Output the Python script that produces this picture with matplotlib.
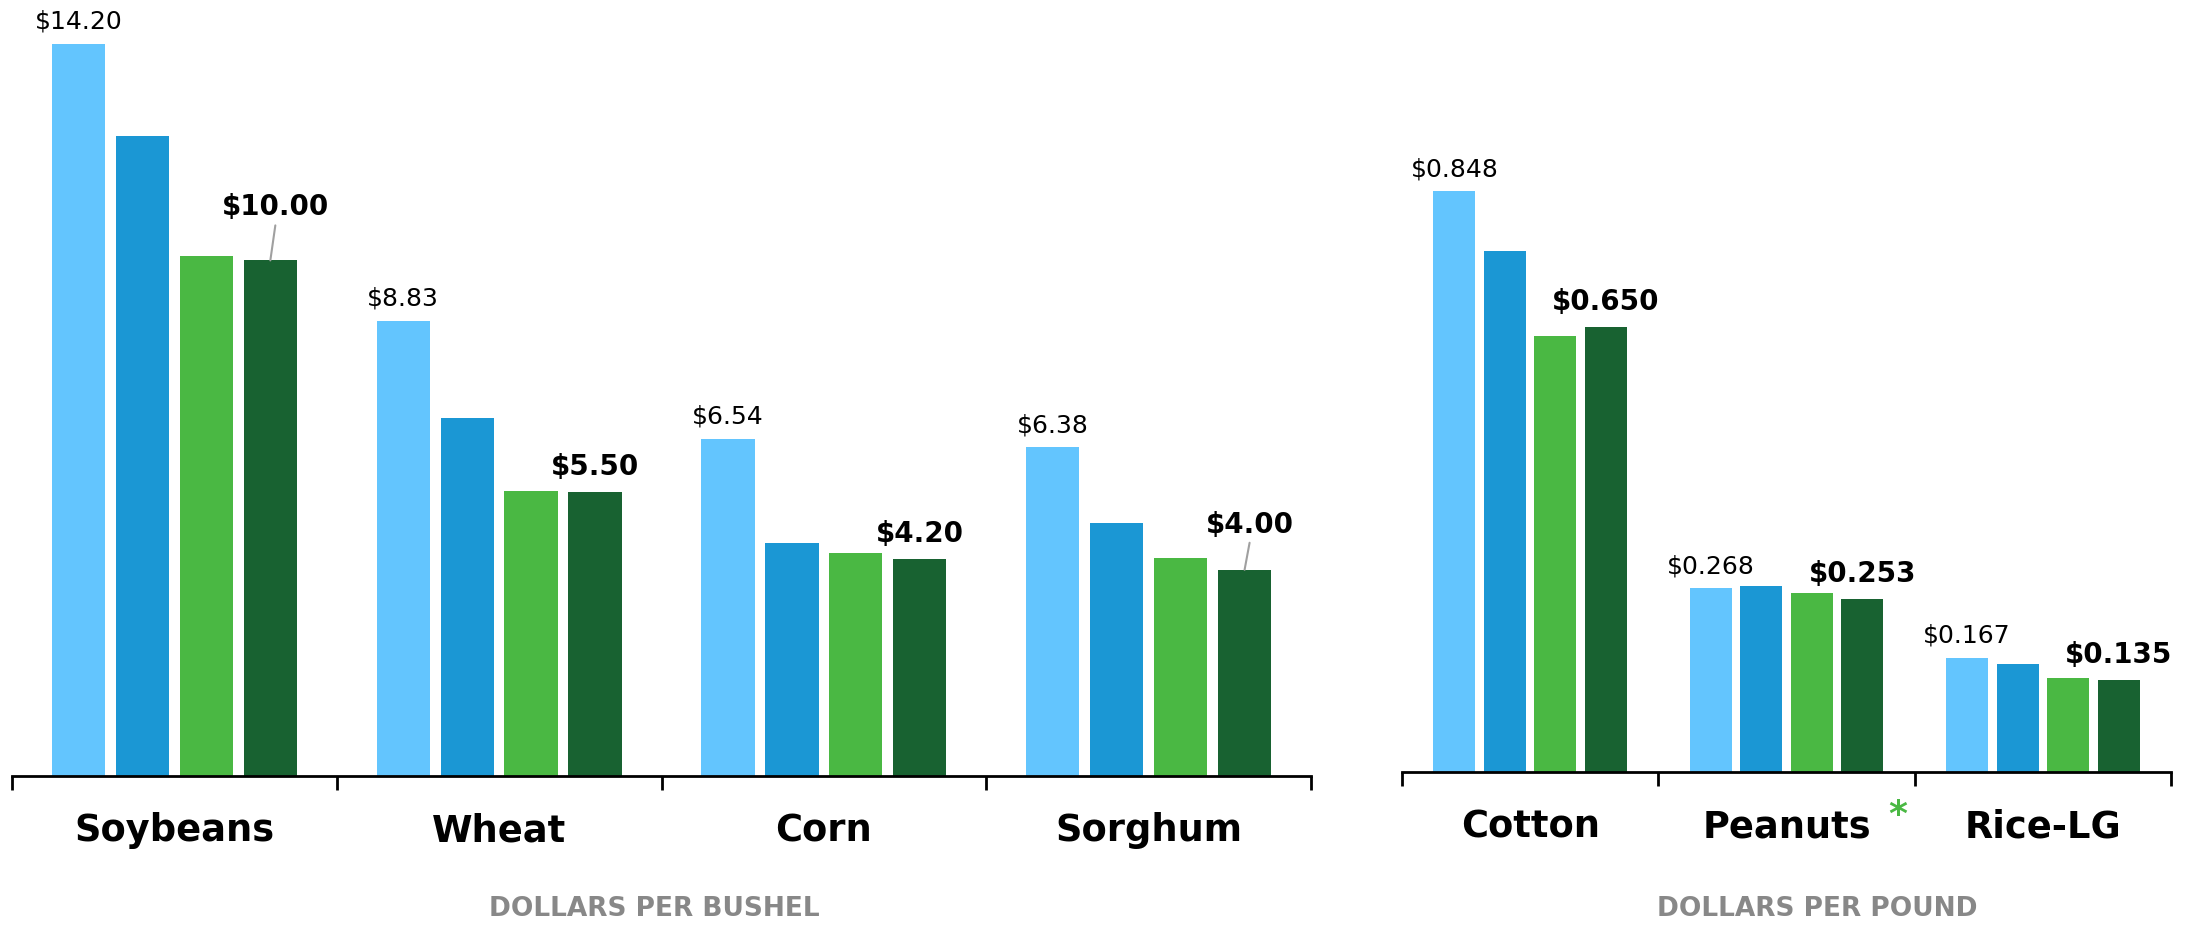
import numpy as np
import matplotlib
matplotlib.use('Agg')
import matplotlib.pyplot as plt

# per bushel crops
bushel_crops = ['Soybeans', 'Wheat', 'Corn', 'Sorghum']
bushel_s1 = [14.20, 8.83, 6.54, 6.38]
bushel_s2 = [12.41, 6.94, 4.52, 4.90]
bushel_s3 = [10.09, 5.53, 4.33, 4.23]
bushel_s4 = [10.00, 5.50, 4.20, 4.00]

# per pound crops
pound_crops = ['Cotton', 'Peanuts', 'Rice-LG']
pound_s1 = [0.848, 0.268, 0.167]
pound_s2 = [0.761, 0.271, 0.158]
pound_s3 = [0.636, 0.261, 0.137]
pound_s4 = [0.650, 0.253, 0.135]

colors = ['#63C5FE', '#1B97D4', '#4AB843', '#186231']
PX = 72 / 100.0  # points per pixel at dpi 100


def draw(ax, crops, series, fmt, ylim, leaders):
    x = np.arange(len(crops))
    step, width = 0.197, 0.164
    for i, vals in enumerate(series):
        ax.bar(x + (i - 1.5) * step, vals, width, color=colors[i], linewidth=0)

    for j in range(len(crops)):
        # normal label on first bar
        ax.annotate(fmt % series[0][j], (x[j] - 1.5 * step, series[0][j]),
                    xytext=(0, 15 * PX), textcoords='offset points',
                    ha='center', va='baseline', fontsize=18)
        # bold label on last bar, some with a leader line
        lead = leaders[j]
        xb = x[j] + 1.5 * step
        if lead:
            ax.annotate(fmt % series[3][j], (xb, series[3][j]),
                        xytext=(5 * PX, lead * PX), textcoords='offset points',
                        ha='center', va='baseline', fontsize=20, fontweight='bold')
            ax.annotate('', (xb, series[3][j]),
                        xytext=(5 * PX, (lead - 10) * PX), textcoords='offset points',
                        arrowprops=dict(arrowstyle='-', color='#A0A0A0', lw=1.5,
                                        shrinkA=0, shrinkB=0))
        else:
            ax.annotate(fmt % series[3][j], (xb, series[3][j]),
                        xytext=(0, 17 * PX), textcoords='offset points',
                        ha='center', va='baseline', fontsize=20, fontweight='bold')

    labels = []
    for j, c in enumerate(crops):
        t = ax.annotate(c, (x[j], 0), xycoords=('data', 'axes fraction'),
                        xytext=(0, -65 * PX), textcoords='offset points',
                        ha='center', va='baseline', fontsize=26.5, fontweight='bold')
        labels.append(t)

    ax.set_xlim(-0.5, len(crops) - 0.5)
    ax.set_ylim(*ylim)
    for s in ['top', 'right', 'left']:
        ax.spines[s].set_visible(False)
    ax.spines['bottom'].set_linewidth(2)
    ax.set_yticks([])
    ax.set_xticks([])
    ax.set_xticks(np.arange(len(crops) + 1) - 0.5, minor=True)
    ax.tick_params(axis='x', which='minor', direction='out', length=14 * PX,
                   width=2, color='black', labelbottom=False)
    return labels


fig = plt.figure(figsize=(21.99, 9.25), dpi=100)

ax1 = fig.add_axes([12 / 2199, 149 / 925, 1299 / 2199, 776 / 925])
draw(ax1, bushel_crops, [bushel_s1, bushel_s2, bushel_s3, bushel_s4], '$%.2f',
     (0, 15.05), [45, 0, 0, 37])

ax2 = fig.add_axes([1402 / 2199, 153 / 925, 769 / 2199, 772 / 925])
lbl = draw(ax2, pound_crops, [pound_s1, pound_s2, pound_s3, pound_s4], '$%.3f',
           (0, 1.127), [0, 0, 0])

# green asterisk after Peanuts
ax2.annotate('*', xy=(1, 1), xycoords=lbl[1], xytext=(17 * PX, 10 * PX),
             textcoords='offset points', ha='left', va='top',
             fontsize=26, fontweight='bold', color='#4AB843')

fig.text(654 / 2199, 9 / 925, 'DOLLARS PER BUSHEL', ha='center', va='baseline',
         fontsize=19, fontweight='bold', color='#888888')
fig.text(1817 / 2199, 9 / 925, 'DOLLARS PER POUND', ha='center', va='baseline',
         fontsize=19, fontweight='bold', color='#888888')

fig.savefig('out.png', dpi=100)
